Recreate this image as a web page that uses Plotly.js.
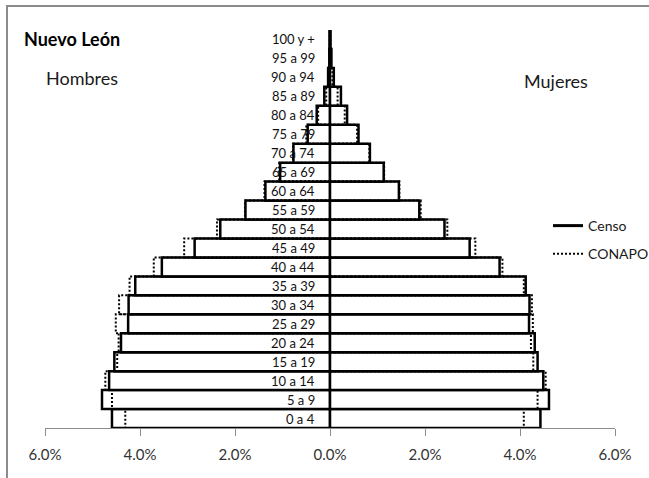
<!DOCTYPE html>
<html><head><meta charset="utf-8">
<script src="https://cdn.plot.ly/plotly-3.0.1.min.js"></script>
<style>
html,body{margin:0;padding:0;background:#fff;}
#chart{width:649px;height:478px;position:absolute;left:0;top:0;}
#frame{position:absolute;left:6px;top:5px;width:700px;height:600px;border-left:2px solid #8c8c8c;border-top:2px solid #8c8c8c;pointer-events:none;}
</style>
</head><body>
<div id="chart"></div><div id="frame"></div>
<script>
// Age groups, bottom to top
const categories = ['0 a 4','5 a 9','10 a 14','15 a 19','20 a 24','25 a 29','30 a 34','35 a 39','40 a 44','45 a 49','50 a 54','55 a 59','60 a 64','65 a 69','70 a 74','75 a 79','80 a 84','85 a 89','90 a 94','95 a 99','100 y +'];
// Percent of total population
const hombresCenso  = [4.59, 4.80, 4.65, 4.54, 4.40, 4.25, 4.24, 4.10, 3.54, 2.85, 2.31, 1.78, 1.36, 1.05, 0.77, 0.47, 0.28, 0.12, 0.04, 0.015, 0.01];
const hombresConapo = [4.31, 4.59, 4.73, 4.48, 4.45, 4.51, 4.44, 4.22, 3.71, 3.07, 2.38, 1.79, 1.38, 1.07, 0.78, 0.50, 0.25, 0.08, 0.03, 0.01, 0.005];
const mujeresCenso  = [4.43, 4.61, 4.49, 4.37, 4.31, 4.19, 4.20, 4.12, 3.57, 2.94, 2.41, 1.88, 1.45, 1.13, 0.84, 0.60, 0.36, 0.23, 0.08, 0.03, 0.01];
const mujeresConapo = [4.08, 4.37, 4.54, 4.28, 4.23, 4.27, 4.25, 4.08, 3.63, 3.06, 2.47, 1.91, 1.46, 1.14, 0.83, 0.57, 0.31, 0.16, 0.05, 0.02, 0.005];
const tickVals = [-6, -4, -2, 0, 2, 4, 6];
const tickText = ['6.0%', '4.0%', '2.0%', '0.0%', '2.0%', '4.0%', '6.0%'];
const seriesNames = ['Censo', 'CONAPO'];

const FONT = 'Lato, "Open Sans", sans-serif';
const idx = categories.map((_, i) => i);

function censoBars(vals, sign) {
  return {
    type: 'bar', orientation: 'h', y: idx, x: vals.map(v => sign * v), base: 0,
    marker: {color: '#ffffff', line: {color: '#000000', width: 2.5}},
    showlegend: false, hoverinfo: 'skip'
  };
}
function conapoOutline(vals, sign, show) {
  const xs = [], ys = [];
  vals.forEach((v, i) => {
    const x = sign * v;
    xs.push(0, x, x, 0, 0, null);
    ys.push(i - 0.5, i - 0.5, i + 0.5, i + 0.5, i - 0.5, null);
  });
  return {
    type: 'scatter', mode: 'lines', x: xs, y: ys, name: seriesNames[1],
    line: {color: '#000000', width: 2, dash: '2px,2px'},
    showlegend: show, legend: 'legend2', hoverinfo: 'skip'
  };
}

const data = [
  censoBars(hombresCenso, -1),
  censoBars(mujeresCenso, 1),
  conapoOutline(hombresConapo, -1, true),
  conapoOutline(mujeresConapo, 1, false),
  {type: 'scatter', mode: 'lines', x: [null], y: [null], name: seriesNames[0],
   line: {color: '#000000', width: 3}, legend: 'legend', showlegend: true}
];

const annotations = categories.map((c, i) => ({
  x: 0, y: i, xref: 'x', yref: 'y', text: c, showarrow: false,
  xanchor: 'right', yanchor: 'middle', xshift: -13,
  font: {family: FONT, size: 13, color: '#111111'}
}));
annotations.push(
  {xref: 'paper', yref: 'paper', x: -0.0404, y: 0.977, xanchor: 'left', yanchor: 'middle',
   text: '<b>Nuevo León</b>', showarrow: false, font: {family: FONT, size: 18, color: '#000'}},
  {xref: 'paper', yref: 'paper', x: 0.0649, y: 0.879, xanchor: 'center', yanchor: 'middle',
   text: 'Hombres', showarrow: false, font: {family: FONT, size: 18, color: '#1a1a1a'}},
  {xref: 'paper', yref: 'paper', x: 0.8965, y: 0.872, xanchor: 'center', yanchor: 'middle',
   text: 'Mujeres', showarrow: false, font: {family: FONT, size: 18, color: '#1a1a1a'}}
);

const layout = {
  width: 649, height: 478,
  margin: {l: 45, r: 34, t: 30, b: 50, pad: 0, autoexpand: false},
  paper_bgcolor: '#ffffff', plot_bgcolor: '#ffffff',
  font: {family: FONT, color: '#1a1a1a'},
  barmode: 'overlay', bargap: 0,
  xaxis: {
    range: [-6, 6], tickvals: tickVals, ticktext: tickText,
    showgrid: false, zeroline: false, showline: true, linecolor: '#8c8c8c', linewidth: 1,
    ticks: 'outside', ticklen: 7, tickcolor: '#8c8c8c', tickwidth: 1,
    tickfont: {family: FONT, size: 15, color: '#333333'}, ticklabelstandoff: 6,
    fixedrange: true
  },
  yaxis: {
    range: [-0.5, 20.5], showticklabels: false, showgrid: false, zeroline: false,
    showline: false, ticks: '', fixedrange: true
  },
  legend: {x: 0.8825, xanchor: 'left', y: 0.5075, yanchor: 'middle', itemwidth: 30,
           bgcolor: 'rgba(0,0,0,0)', font: {family: FONT, size: 14, color: '#1a1a1a'}},
  legend2: {x: 0.8825, xanchor: 'left', y: 0.437, yanchor: 'middle', itemwidth: 30,
           bgcolor: 'rgba(0,0,0,0)', font: {family: FONT, size: 14, color: '#1a1a1a'}},
  annotations: annotations,
  showlegend: true
};

Plotly.newPlot('chart', data, layout, {displayModeBar: false, staticPlot: true});
</script>
</body></html>
